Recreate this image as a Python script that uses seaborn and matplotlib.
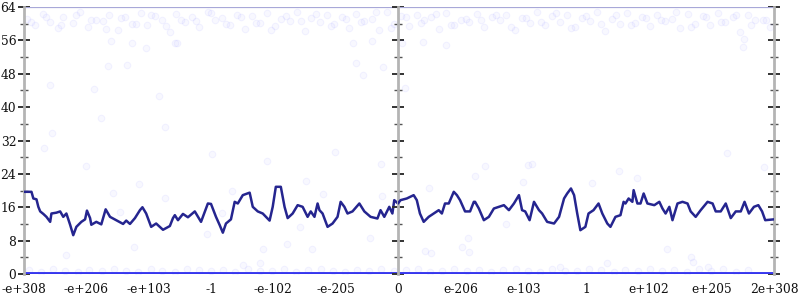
import numpy as np
import pandas as pd
import matplotlib
matplotlib.use("Agg")
import matplotlib.pyplot as plt
from matplotlib.ticker import MultipleLocator, FixedLocator
import seaborn as sns

# ---- data ----
left_labels = ["-e+308", "-e+206", "-e+103", "-1", "-e-102", "-e-205", "0"]
right_labels = ["", "e-206", "e-103", "1", "e+102", "e+205", "2e+308"]

line_t = [0.00, 0.12, 0.15, 0.20, 0.23, 0.26, 0.31, 0.36, 0.42, 0.44, 0.52, 0.58, 0.63, 0.68, 0.74, 0.79,
          0.84, 0.92, 0.98, 1.01, 1.06, 1.08, 1.16, 1.24, 1.31, 1.38, 1.48, 1.59, 1.64, 1.70, 1.78, 1.86,
          1.90, 1.96, 2.04, 2.12, 2.23, 2.28, 2.34, 2.39, 2.42, 2.47, 2.55, 2.63, 2.74, 2.84, 2.95, 3.00,
          3.08, 3.14, 3.19, 3.24, 3.32, 3.38, 3.43, 3.51, 3.62, 3.67, 3.75, 3.83, 3.94, 3.99, 4.04, 4.12,
          4.18, 4.23, 4.31, 4.39, 4.47, 4.55, 4.60, 4.66, 4.71, 4.74, 4.79, 4.87, 4.95, 5.03, 5.08, 5.14,
          5.19, 5.27, 5.38, 5.46, 5.56, 5.67, 5.72, 5.78, 5.86, 5.91, 5.94, 6.00, 6.04, 6.14, 6.25, 6.30,
          6.35, 6.41, 6.49, 6.57, 6.65, 6.70, 6.75, 6.81, 6.89, 6.94, 6.99, 7.07, 7.15, 7.21, 7.23, 7.29,
          7.37, 7.45, 7.53, 7.61, 7.69, 7.77, 7.85, 7.93, 7.98, 8.03, 8.10, 8.17, 8.25, 8.30, 8.38, 8.49,
          8.57, 8.65, 8.70, 8.76, 8.81, 8.86, 8.91, 8.99, 9.04, 9.12, 9.20, 9.26, 9.34, 9.39, 9.47, 9.55,
          9.60, 9.63, 9.68, 9.74, 9.76, 9.82, 9.87, 9.92, 9.98, 10.09, 10.17, 10.22, 10.27, 10.33, 10.38,
          10.46, 10.54, 10.62, 10.67, 10.75, 10.83, 10.94, 11.02, 11.07, 11.15, 11.23, 11.31, 11.39, 11.47,
          11.53, 11.60, 11.68, 11.75, 11.81, 11.86, 12.00]
line_v = [19.7, 19.7, 18.1, 17.9, 16.1, 15.0, 14.4, 13.7, 12.5, 14.5, 14.7, 15.0, 13.7, 14.5, 11.8, 9.3,
          11.3, 12.5, 13.1, 15.2, 13.4, 11.8, 12.5, 11.9, 15.5, 13.7, 12.9, 12.0, 12.8, 12.0, 13.4, 15.3,
          16.0, 14.5, 11.3, 12.1, 10.6, 11.0, 11.5, 13.4, 14.1, 12.9, 14.4, 13.6, 15.0, 12.5, 16.9, 16.8,
          13.7, 11.7, 9.9, 12.1, 13.1, 17.3, 16.9, 18.9, 19.5, 16.1, 15.0, 14.5, 12.8, 16.1, 20.9, 20.9,
          16.1, 13.4, 14.5, 16.5, 16.1, 13.7, 15.0, 13.7, 16.9, 15.3, 14.5, 11.3, 12.1, 13.7, 17.3, 16.1,
          14.5, 15.0, 16.9, 15.0, 13.7, 13.3, 15.3, 13.7, 16.1, 14.5, 17.7, 16.9, 17.7, 18.1, 18.9, 17.7,
          14.5, 12.5, 13.7, 14.5, 15.3, 14.5, 16.9, 16.9, 19.7, 18.9, 17.7, 15.0, 15.0, 17.3, 17.3, 15.7,
          12.9, 13.7, 15.7, 16.1, 16.5, 15.3, 16.9, 18.9, 15.3, 15.0, 12.9, 17.3, 15.3, 14.5, 12.5, 12.1,
          13.7, 18.1, 19.3, 20.5, 18.9, 14.5, 10.5, 11.3, 14.5, 15.3, 16.9, 14.5, 12.1, 11.3, 13.7, 14.1,
          17.3, 16.9, 18.1, 17.3, 20.1, 16.9, 16.9, 19.3, 16.9, 16.5, 17.3, 15.7, 14.5, 16.1, 12.9,
          16.9, 17.3, 16.9, 15.0, 13.7, 15.3, 17.3, 16.9, 15.0, 15.0, 16.9, 13.4, 15.0, 15.0,
          17.3, 14.5, 16.1, 16.5, 15.0, 12.9, 13.1]

top_t = [0.05, 0.18, 0.3, 0.42, 0.55, 0.63, 0.78, 0.9, 1.02, 1.15,
         1.27, 1.36, 1.5, 1.62, 1.73, 1.88, 1.97, 2.1, 2.22, 2.35,
         2.44, 2.58, 2.7, 2.81, 2.95, 3.06, 3.18, 3.3, 3.41, 3.55,
         3.66, 3.78, 3.9, 4.02, 4.13, 4.27, 4.38, 4.5, 4.61, 4.75,
         4.86, 4.98, 5.1, 5.22, 5.33, 5.46, 5.58, 5.7, 5.82, 5.93,
         6.05, 6.17, 6.3, 6.41, 6.53, 6.66, 6.77, 6.9, 7.01, 7.14,
         7.26, 7.38, 7.5, 7.62, 7.73, 7.86, 7.98, 8.1, 8.22, 8.34,
         8.46, 8.58, 8.7, 8.82, 8.94, 9.06, 9.18, 9.3, 9.42, 9.54,
         9.66, 9.78, 9.9, 10.02, 10.14, 10.26, 10.38, 10.5, 10.62, 10.74,
         10.86, 10.98, 11.1, 11.22, 11.34, 11.46, 11.58, 11.7, 11.82, 11.94]
top_v = [61.2, 59.8, 62.4, 60.5, 58.9, 61.7, 60.1, 62.8, 59.3, 61.0,
         60.6, 62.1, 58.4, 61.5, 60.0, 62.6, 59.6, 61.9, 60.8, 57.9,
         62.3, 60.4, 61.6, 59.1, 62.9, 60.9, 61.3, 59.7, 62.0, 58.7,
         61.8, 60.2, 62.5, 59.4, 61.1, 60.7, 62.7, 58.2, 61.4, 60.3,
         62.2, 59.9, 61.7, 59.0, 62.4, 60.6, 61.2, 58.6, 62.8, 60.0,
         61.9, 59.5, 62.1, 60.8, 61.5, 58.8, 62.6, 59.8, 61.0, 60.4,
         62.3, 59.2, 61.6, 60.9, 62.0, 58.5, 61.3, 60.1, 62.7, 59.6,
         61.8, 60.5, 62.2, 59.1, 61.4, 60.7, 62.9, 58.3, 61.1, 59.9,
         62.5, 60.2, 61.7, 59.4, 62.0, 60.6, 61.2, 58.9, 62.4, 60.0,
         61.9, 59.7, 62.6, 60.3, 61.5, 58.1, 62.1, 60.8, 61.0, 59.3]

top2_t = [0.12, 0.36, 0.6, 0.84, 1.08, 1.32, 1.56, 1.8, 2.04, 2.28,
          2.52, 2.76, 3.0, 3.24, 3.48, 3.72, 3.96, 4.2, 4.44, 4.68,
          4.92, 5.16, 5.4, 5.64, 5.88, 6.12, 6.36, 6.6, 6.84, 7.08,
          7.32, 7.56, 7.8, 8.04, 8.28, 8.52, 8.76, 9.0, 9.24, 9.48,
          9.72, 9.96, 10.2, 10.44, 10.68, 10.92, 11.16, 11.4, 11.64, 11.88]
top2_v = [60.3, 61.5, 59.6, 62.0, 60.9, 58.8, 61.3, 60.0, 62.2, 59.4,
          61.0, 60.6, 62.5, 59.9, 61.7, 60.2, 58.6, 61.9, 60.7, 62.3,
          59.5, 61.2, 60.4, 62.7, 59.0, 61.6, 60.1, 62.4, 59.7, 61.1,
          60.8, 62.1, 59.3, 61.4, 60.5, 62.6, 58.9, 61.8, 60.0, 62.0,
          59.6, 61.3, 60.9, 62.8, 59.2, 61.5, 60.3, 62.2, 59.8, 61.0]

bot_t = [0.08, 0.28, 0.47, 0.66, 0.86, 1.05, 1.25, 1.44, 1.64, 1.83,
         2.03, 2.22, 2.42, 2.61, 2.81, 3.0, 3.2, 3.39, 3.59, 3.78,
         3.98, 4.17, 4.37, 4.56, 4.76, 4.95, 5.15, 5.34, 5.54, 5.73,
         5.93, 6.12, 6.32, 6.51, 6.71, 6.9, 7.1, 7.29, 7.49, 7.68,
         7.88, 8.07, 8.27, 8.46, 8.66, 8.85, 9.05, 9.24, 9.44, 9.63,
         9.83, 10.02, 10.22, 10.41, 10.61, 10.8, 11.0, 11.19, 11.39, 11.58]
bot_v = [0.9, 0.5, 1.2, 0.7, 0.4, 1.0, 0.6, 1.3, 0.8, 0.5,
         1.1, 0.7, 0.4, 1.2, 0.9, 0.6, 1.0, 0.5, 1.3, 0.8,
         0.6, 1.1, 0.4, 0.9, 1.2, 0.7, 0.5, 1.0, 0.8, 1.3,
         0.6, 0.9, 1.1, 0.4, 0.8, 1.2, 0.6, 1.0, 0.5, 0.9,
         1.3, 0.7, 0.4, 1.1, 0.8, 0.6, 1.2, 0.9, 0.5, 1.0,
         0.7, 1.3, 0.6, 0.9, 0.4, 1.1, 0.8, 1.2, 0.5, 1.0]

mid_t = [0.42, 1.34, 1.66, 1.12, 2.16, 1.23, 0.45, 2.27, 0.32, 1.39, 1.73, 1.95, 2.42, 2.46,
         0.99, 1.42, 1.84, 2.27, 1.54, 0.67, 1.76,
         3.02, 4.99, 3.9, 5.73, 4.53, 3.34, 4.8, 5.75, 3.18, 4.42, 2.93, 5.55, 4.22, 3.84, 4.62, 3.78, 3.52,
         7.39, 8.08, 8.14, 7.23, 8.0, 9.09, 6.5, 7.73, 7.12, 7.02, 7.14, 6.43, 6.53, 8.58,
         11.25, 11.84, 9.52, 9.82, 10.3, 10.67, 10.7, 9.33, 10.94,
         5.28, 5.58, 6.06, 6.4, 5.33, 5.76, 5.44, 6.11, 6.77, 11.5, 11.52]
mid_v = [45.3, 49.9, 50.1, 44.3, 42.7, 37.4, 33.8, 35.2, 30.2, 55.8, 55.4, 54.2, 55.4, 55.4,
         25.9, 19.4, 21.6, 18.2, 14.9, 4.6, 6.5,
         28.8, 29.2, 27.1, 26.4, 22.3, 19.9, 19.2, 18.7, 14.6, 11.3, 9.6, 8.6, 7.2, 6.0, 6.0, 2.6, 2.2,
         25.9, 26.1, 26.4, 23.5, 22.1, 21.8, 20.6, 12.0, 8.6, 6.5, 5.3, 5.5, 5.0, 1.7,
         29.0, 25.6, 24.7, 23.0, 6.0, 4.1, 2.9, 2.6, 1.7,
         55.4, 55.8, 55.4, 55.6, 50.6, 49.6, 47.7, 44.6, 54.9, 54.4, 56.3]

bound_t = [0, 12]
floor_v = [0, 0]
ceil_v = [64, 64]

# ---- build ----
pts = pd.DataFrame({
    "t": top_t + top2_t + bot_t + mid_t,
    "v": top_v + top2_v + bot_v + mid_v,
})
line_df = pd.DataFrame({"t": line_t, "v": line_v})
bounds = pd.DataFrame({"t": bound_t, "floor": floor_v, "ceil": ceil_v})

sns.set_style("white")
plt.rcParams["font.family"] = ["DejaVu Serif"]

fig = plt.figure(figsize=(8, 3), dpi=100)
W, H = 800, 300
L, C, R, T, B = 24, 398, 774, 7, 274
ax1 = fig.add_axes([L / W, 1 - B / H, (C - L) / W, (B - T) / H])
ax2 = fig.add_axes([C / W, 1 - B / H, (R - C) / W, (B - T) / H])

spine_col = "#b4b4b4"
FS = 8.8
for ax, lo, hi in ((ax1, 0, 6), (ax2, 6, 12)):
    sns.lineplot(data=bounds, x="t", y="floor", ax=ax, color="#3636ee", lw=2.8, zorder=2)
    sns.lineplot(data=bounds, x="t", y="ceil", ax=ax, color="#a8a8d8", lw=1.6, zorder=2)
    sns.scatterplot(data=pts, x="t", y="v", ax=ax, s=22, color=(0.3, 0.3, 1.0, 0.035),
                    edgecolor=(0.3, 0.3, 1.0, 0.06), linewidth=0.8, zorder=1)
    sns.lineplot(data=line_df, x="t", y="v", ax=ax, color="#25258f", lw=1.8, zorder=3,
                 estimator=None, sort=False)
    ax.set_xlim(lo, hi)
    ax.set_ylim(0, 64)
    ax.set_xlabel("")
    ax.set_ylabel("")
    ax.set_facecolor("white")
    for s in ("top", "bottom"):
        ax.spines[s].set_visible(False)
    ax.yaxis.set_major_locator(MultipleLocator(8))
    ax.yaxis.set_minor_locator(MultipleLocator(4))
    ax.xaxis.set_major_locator(FixedLocator(list(range(lo, hi + 1))))
    ax.tick_params(axis="x", which="major", direction="inout", length=9, width=1.2,
                   color="#222222", labelsize=FS, pad=2, labelcolor="#111111")
    ax.tick_params(axis="y", which="major", direction="inout", length=9, width=1.4,
                   color="#333333", labelsize=FS, pad=1, labelcolor="#111111")
    ax.tick_params(axis="y", which="minor", direction="inout", length=6, width=1.0,
                   color="#555555")

ax1.set_xticks(list(range(0, 7)))
ax1.set_xticklabels(left_labels)
ax2.set_xticks(list(range(6, 13)))
ax2.set_xticklabels(right_labels)

ax1.spines["left"].set_color(spine_col)
ax1.spines["left"].set_linewidth(2)
ax1.spines["right"].set_visible(False)
ax2.spines["left"].set_color(spine_col)
ax2.spines["left"].set_linewidth(2)
ax2.spines["right"].set_color(spine_col)
ax2.spines["right"].set_linewidth(2)

ax1.yaxis.set_ticks_position("left")
ax2.yaxis.set_ticks_position("both")
ax2.tick_params(axis="y", which="both", labelleft=False, labelright=False)
ax1.tick_params(axis="y", which="both", labelleft=True)

fig.savefig("out.png", dpi=100, facecolor="white")
